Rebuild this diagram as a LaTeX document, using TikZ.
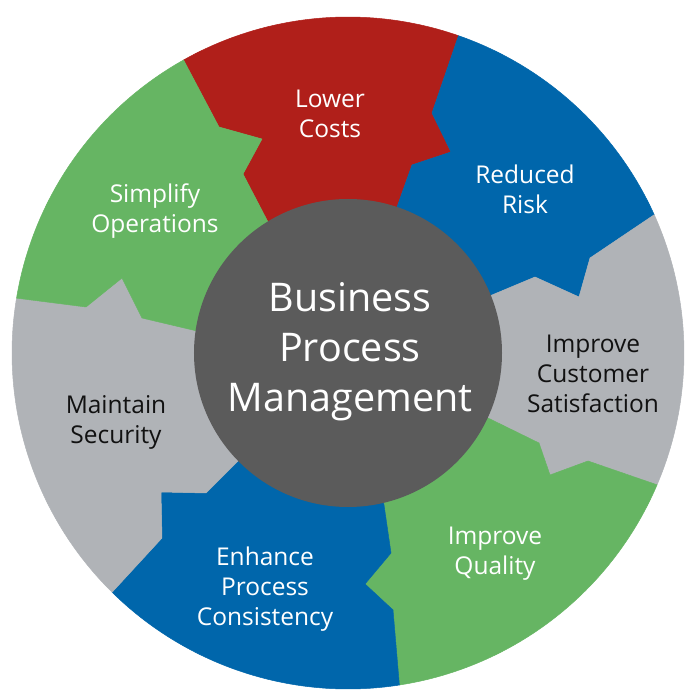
\documentclass[tikz,border=0pt]{standalone}
\usepackage{fontspec}
\setmainfont{Open Sans}
\definecolor{cred}{HTML}{B01F1A}
\definecolor{cblue}{HTML}{0066AB}
\definecolor{cgreen}{HTML}{66B563}
\definecolor{cgray}{HTML}{B0B3B7}
\definecolor{cdark}{HTML}{5B5B5B}
\definecolor{ctext}{HTML}{111111}
\begin{document}
\begin{tikzpicture}[x=1pt,y=1pt,
  seg/.style={line width=0.5pt, line join=round},
  redseg/.style={seg, fill=cred, draw=cred},
  blueseg/.style={seg, fill=cblue, draw=cblue},
  greenseg/.style={seg, fill=cgreen, draw=cgreen},
  grayseg/.style={seg, fill=cgray, draw=cgray},
  lbl/.style={align=center, inner sep=0pt, anchor=north, font=\fontsize{24.5}{30}\selectfont},
  wlbl/.style={lbl, text=white},
  klbl/.style={lbl, text=ctext},
  hubstyle/.style={circle, fill=cdark, minimum size=308pt, inner sep=0pt},
  hubtext/.style={align=center, inner sep=0pt, anchor=north, text=white, font=\fontsize{39.5}{50}\selectfont}]
\useasboundingbox (-348,-347) rectangle (352,353);
\def\R{336}
% boundary 1: Simplify / Lower Costs
\coordinate (b1k1) at (-129,226);
\coordinate (b1t) at (-86,214);
\coordinate (b1k2) at (-105,179);
\coordinate (b1i) at (-80,131);
% boundary 2: Lower Costs / Reduced Risk
\coordinate (b2k1) at (84,240);
\coordinate (b2t) at (103,201);
\coordinate (b2k2) at (64,188);
\coordinate (b2i) at (49,146);
% boundary 3: Reduced Risk / Customer Satisfaction
\coordinate (b3k1) at (242,95);
\coordinate (b3t) at (231,56);
\coordinate (b3k2) at (187,76);
\coordinate (b3i) at (144,58);
% boundary 4: Customer Satisfaction / Quality
\coordinate (b4k1) at (240,-108);
\coordinate (b4t) at (202,-122);
\coordinate (b4k2) at (191,-90);
\coordinate (b4i) at (142,-66);
% boundary 5: Quality / Consistency
\coordinate (b5k1) at (45,-257);
\coordinate (b5t) at (17,-231);
\coordinate (b5k2) at (43,-200);
\coordinate (b5i) at (36,-152);
% boundary 6: Consistency / Security
\coordinate (b6k1) at (-186,-185);
\coordinate (b6t) at (-187,-139);
\coordinate (b6k2) at (-142,-140);
\coordinate (b6i) at (-111,-109);
% boundary 7: Security / Simplify
\coordinate (b7k1) at (-262,46);
\coordinate (b7t) at (-226,75);
\coordinate (b7k2) at (-206,35);
\coordinate (b7i) at (-151,22);
\coordinate (ctr) at (0,0);

% Lower Costs
\path[redseg] (b1i) -- (b1k2) -- (b1t) -- (b1k1) -- (119.3:\R)
  arc[start angle=119.3, end angle=70.8, radius=\R]
  -- (b2k1) -- (b2t) -- (b2k2) -- (b2i) -- (ctr) -- cycle;
% Reduced Risk
\path[blueseg] (b2i) -- (b2k2) -- (b2t) -- (b2k1) -- (70.8:\R)
  arc[start angle=70.8, end angle=24.3, radius=\R]
  -- (b3k1) -- (b3t) -- (b3k2) -- (b3i) -- (ctr) -- cycle;
% Improve Customer Satisfaction
\path[grayseg] (b3i) -- (b3k2) -- (b3t) -- (b3k1) -- (24.3:\R)
  arc[start angle=24.3, end angle=-23.1, radius=\R]
  -- (b4k1) -- (b4t) -- (b4k2) -- (b4i) -- (ctr) -- cycle;
% Improve Quality
\path[greenseg] (b4i) -- (b4k2) -- (b4t) -- (b4k1) -- (-23.1:\R)
  arc[start angle=-23.1, end angle=-81.2, radius=\R]
  -- (b5k1) -- (b5t) -- (b5k2) -- (b5i) -- (ctr) -- cycle;
% Enhance Process Consistency
\path[blueseg] (b5i) -- (b5k2) -- (b5t) -- (b5k1) -- (-81.2:\R)
  arc[start angle=-81.2, end angle=-134.6, radius=\R]
  -- (b6k1) -- (b6t) -- (b6k2) -- (b6i) -- (ctr) -- cycle;
% Maintain Security
\path[grayseg] (b6i) -- (b6k2) -- (b6t) -- (b6k1) -- (-134.6:\R)
  arc[start angle=-134.6, end angle=-189.4, radius=\R]
  -- (b7k1) -- (b7t) -- (b7k2) -- (b7i) -- (ctr) -- cycle;
% Simplify Operations
\path[greenseg] (b7i) -- (b7k2) -- (b7t) -- (b7k1) -- (170.6:\R)
  arc[start angle=170.6, end angle=119.3, radius=\R]
  -- (b1k1) -- (b1t) -- (b1k2) -- (b1i) -- (ctr) -- cycle;

\node[hubstyle] (hub) at (0,0) {};
\node[hubtext] (bpm) at (2,71) {Business\\Process\\Management};

\node[wlbl] (lc) at (-18,263) {Lower\\Costs};
\node[wlbl] (rr) at (177,188) {Reduced\\Risk};
\node[wlbl] (so) at (-193,169) {Simplify\\Operations};
\node[klbl] (ics) at (245,18) {Improve\\Customer\\Satisfaction};
\node[klbl] (ms) at (-232,-42) {Maintain\\Security};
\node[wlbl] (iq) at (147,-174) {Improve\\Quality};
\node[wlbl] (epc) at (-83,-194) {Enhance\\Process\\Consistency};
\end{tikzpicture}
\end{document}
